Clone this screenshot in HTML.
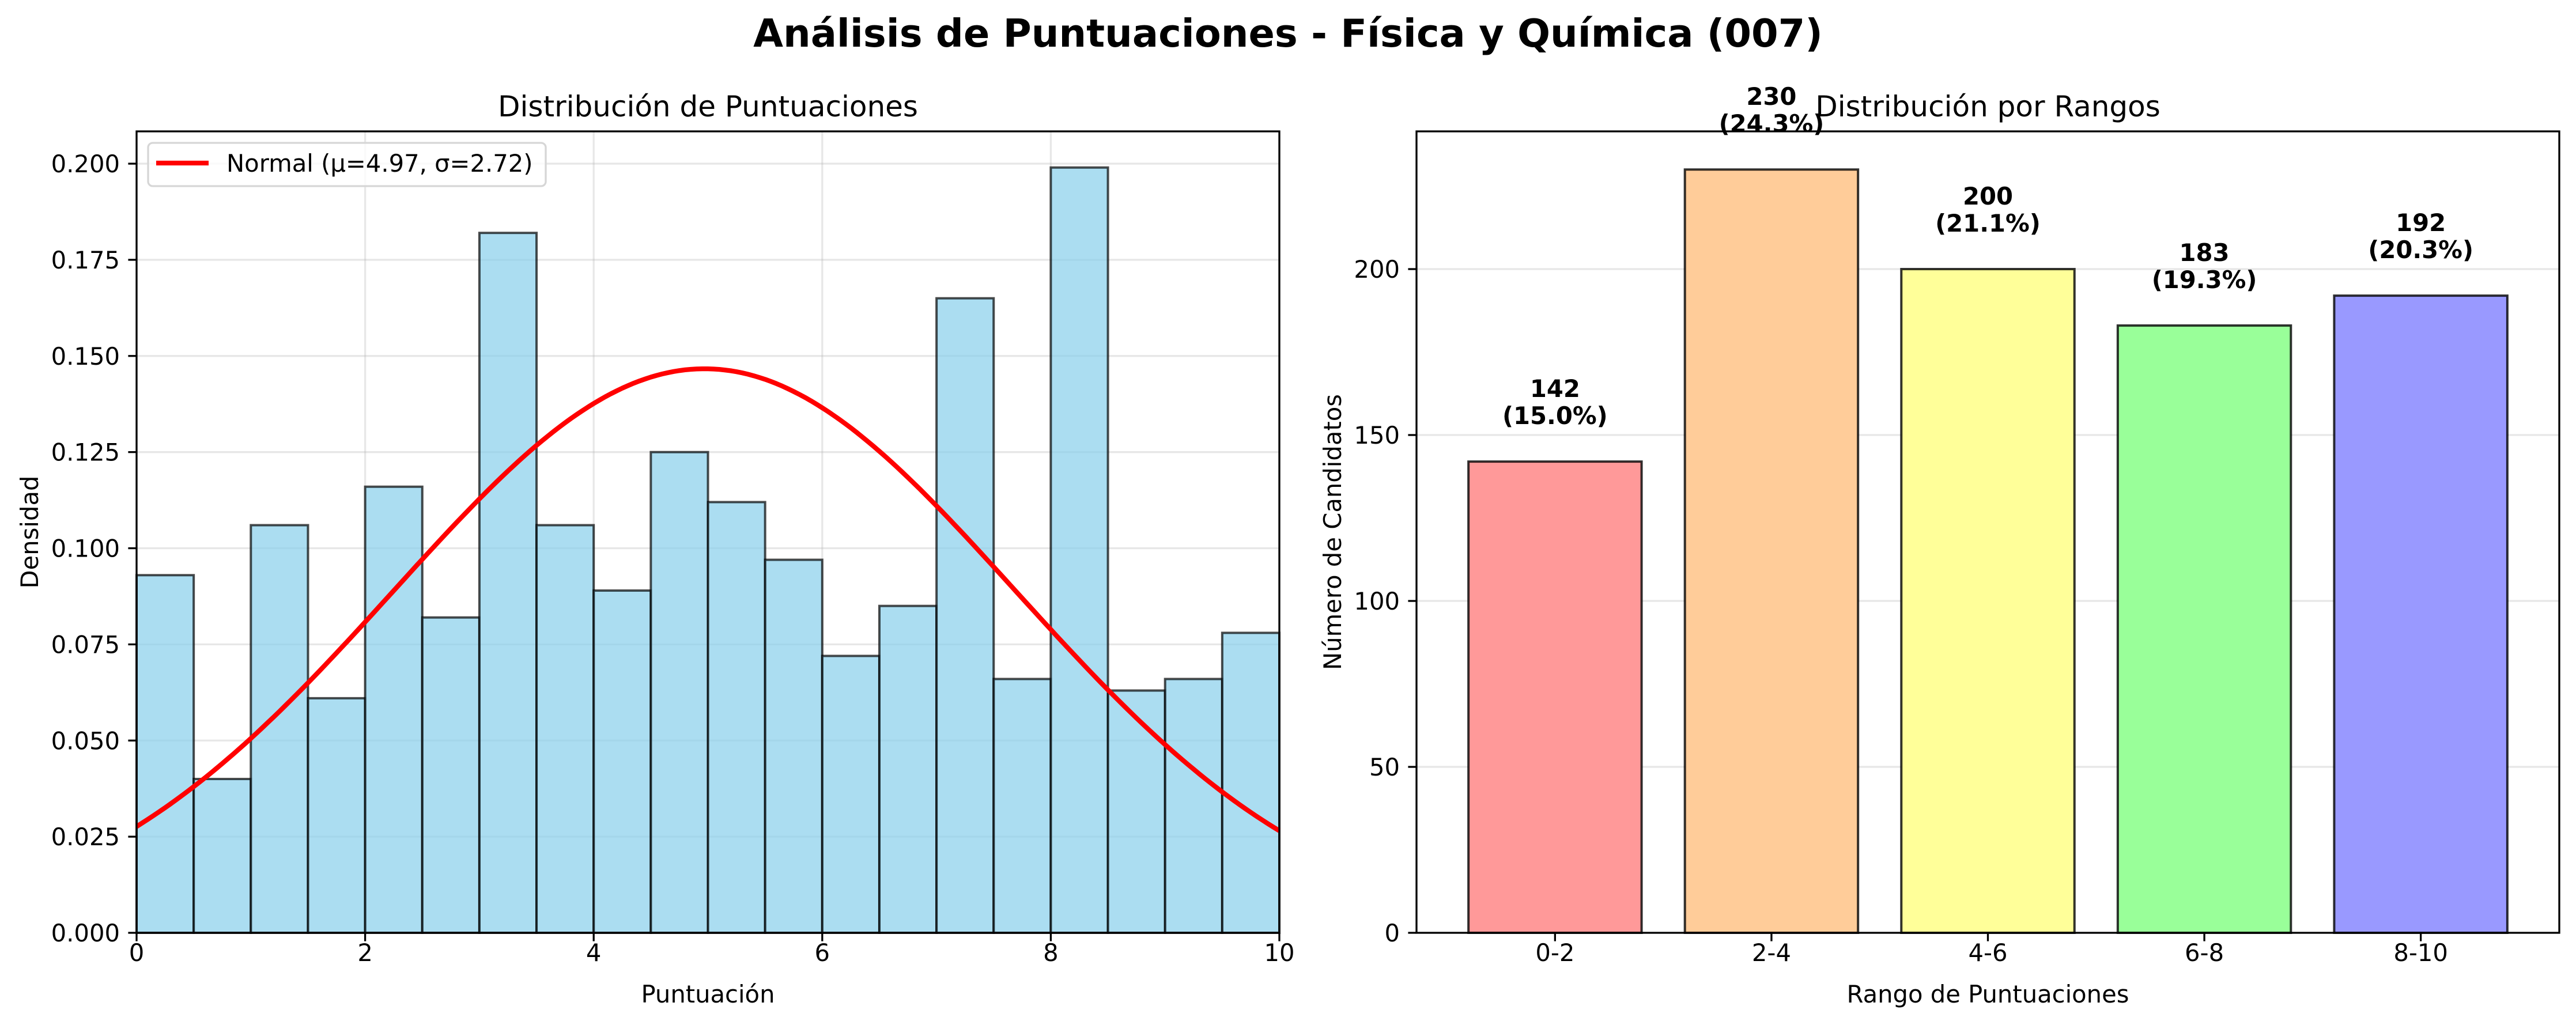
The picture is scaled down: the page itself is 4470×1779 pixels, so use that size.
<!DOCTYPE html>
<html><head><meta charset="utf-8"><style>
html,body{margin:0;padding:0;background:#fff;}
svg{display:block;font-family:"DejaVu Sans","Liberation Sans",sans-serif;}
</style></head><body>
<svg id="fig" width="4470" height="1779" viewBox="0 0 4470 1779" xmlns="http://www.w3.org/2000/svg">
<rect width="4470" height="1779" fill="#fff"/>
<text x="2235" y="81" text-anchor="middle" font-size="67" font-weight="bold">Análisis de Puntuaciones - Física y Química (007)</text>
<g id="left"></g>
<g id="right"></g>
</svg>
<script>
// Histogram data
const histBinStart = [0,0.5,1,1.5,2,2.5,3,3.5,4,4.5,5,5.5,6,6.5,7,7.5,8,8.5,9,9.5];
const histDensity = [0.093,0.040,0.106,0.061,0.116,0.082,0.182,0.106,0.089,0.125,0.112,0.097,0.072,0.085,0.165,0.066,0.199,0.063,0.066,0.078];
const histXTicks = [0,2,4,6,8,10];
const histYTicks = [0,0.025,0.05,0.075,0.1,0.125,0.15,0.175,0.2];
const normalMu = 4.97;
const normalSigma = 2.72;
// Range bar data
const rangeCategories = ["0-2","2-4","4-6","6-8","8-10"];
const rangeCounts = [142,230,200,183,192];
const rangePercents = ["15.0%","24.3%","21.1%","19.3%","20.3%"];
const rangeYTicks = [0,50,100,150,200];
const rangeColors = ["#ff9999","#ffcc99","#ffff99","#99ff99","#9999ff"];

const NS="http://www.w3.org/2000/svg";
function mk(parent,tag,attrs,text){const e=document.createElementNS(NS,tag);for(const k in attrs)e.setAttribute(k,attrs[k]);if(text!==undefined)e.textContent=text;parent.appendChild(e);return e;}

const axTop=228,bot=1619;
// ---------- Left ----------
const L=document.getElementById('left');
const lx0=237,lx1=2220,lymax=0.2084;
const lx=v=>lx0+v/10*(lx1-lx0);
const ly=v=>bot-v/lymax*(bot-axTop);
histXTicks.forEach(t=>{const g=mk(L,'line',{x1:lx(t),x2:lx(t),y1:axTop,y2:bot,stroke:'#b0b0b0','stroke-opacity':0.3,'stroke-width':3.3});

});
histYTicks.forEach(t=>{const g=mk(L,'line',{x1:lx0,x2:lx1,y1:ly(t),y2:ly(t),stroke:'#b0b0b0','stroke-opacity':0.3,'stroke-width':3.3});

});
histDensity.forEach((d,i)=>{const r=mk(L,'rect',{x:lx(histBinStart[i]),y:ly(d),width:lx(histBinStart[i]+0.5)-lx(histBinStart[i]),height:bot-ly(d),fill:'#87ceeb','fill-opacity':0.7,stroke:'#000','stroke-opacity':0.7,'stroke-width':4});

});
let pts=[];for(let k=0;k<=200;k++){const x=k/20;const y=Math.exp(-0.5*((x-normalMu)/normalSigma)**2)/(normalSigma*Math.sqrt(2*Math.PI));pts.push(lx(x).toFixed(1)+','+ly(y).toFixed(1));}
const curve=mk(L,'polyline',{points:pts.join(' '),fill:'none',stroke:'#ff0000','stroke-width':8.3,'stroke-linejoin':'round'});


mk(L,'rect',{x:lx0,y:axTop,width:lx1-lx0,height:bot-axTop,fill:'none',stroke:'#000','stroke-width':3.3});
histXTicks.forEach(t=>{mk(L,'line',{x1:lx(t),x2:lx(t),y1:bot,y2:bot+14.6,stroke:'#000','stroke-width':3.3});
const tx=mk(L,'text',{x:lx(t),y:1668,'text-anchor':'middle','font-size':41.7},String(t));

});
histYTicks.forEach(t=>{mk(L,'line',{x1:lx0-14.6,x2:lx0,y1:ly(t),y2:ly(t),stroke:'#000','stroke-width':3.3});
const tx=mk(L,'text',{x:208,y:ly(t)+15,'text-anchor':'end','font-size':41.7},t.toFixed(3));

});
const lt=mk(L,'text',{x:(lx0+lx1)/2,y:202,'text-anchor':'middle','font-size':50},'Distribución de Puntuaciones');


const lxl=mk(L,'text',{x:(lx0+lx1)/2,y:1740,'text-anchor':'middle','font-size':41.7},'Puntuación');


const lyl=mk(L,'text',{x:0,y:0,'text-anchor':'middle','font-size':41.7,transform:`translate(66,${(axTop+bot)/2}) rotate(-90)`},'Densidad');


const lg=mk(L,'g',{});


mk(lg,'rect',{x:257,y:248,width:690,height:75,rx:8,fill:'#fff','fill-opacity':0.8,stroke:'#d6d6d6','stroke-width':3.3});
mk(lg,'line',{x1:271,x2:362,y1:283,y2:283,stroke:'#ff0000','stroke-width':8.3});
mk(lg,'text',{x:393,y:298,'font-size':41.7},'Normal (μ=4.97, σ=2.72)');

// ---------- Right ----------
const R=document.getElementById('right');
const rx0=2458,rx1=4441,rymax=241.5;
const rx=v=>rx0+(v+0.64)/5.28*(rx1-rx0);
const ry=v=>bot-v/rymax*(bot-axTop);
rangeYTicks.forEach(t=>{const g=mk(R,'line',{x1:rx0,x2:rx1,y1:ry(t),y2:ry(t),stroke:'#b0b0b0','stroke-opacity':0.3,'stroke-width':3.3});

});
rangeCounts.forEach((c,i)=>{const r=mk(R,'rect',{x:rx(i-0.4),y:ry(c),width:rx(i+0.4)-rx(i-0.4),height:bot-ry(c),fill:rangeColors[i],stroke:'#000','stroke-opacity':0.8,'stroke-width':4});


const t1=mk(R,'text',{x:rx(i),y:ry(c)-112,'text-anchor':'middle','font-size':41.7,'font-weight':'bold'},String(c));


const t2=mk(R,'text',{x:rx(i),y:ry(c)-65,'text-anchor':'middle','font-size':41.7,'font-weight':'bold'},'('+rangePercents[i]+')');


mk(R,'line',{x1:rx(i),x2:rx(i),y1:bot,y2:bot+14.6,stroke:'#000','stroke-width':3.3});
const tx=mk(R,'text',{x:rx(i),y:1668,'text-anchor':'middle','font-size':41.7},rangeCategories[i]);

});
mk(R,'rect',{x:rx0,y:axTop,width:rx1-rx0,height:bot-axTop,fill:'none',stroke:'#000','stroke-width':3.3});
rangeYTicks.forEach(t=>{mk(R,'line',{x1:rx0-14.6,x2:rx0,y1:ry(t),y2:ry(t),stroke:'#000','stroke-width':3.3});
const tx=mk(R,'text',{x:rx0-29,y:ry(t)+15,'text-anchor':'end','font-size':41.7},String(t));

});
const rt=mk(R,'text',{x:(rx0+rx1)/2,y:202,'text-anchor':'middle','font-size':50},'Distribución por Rangos');


const rxl=mk(R,'text',{x:(rx0+rx1)/2,y:1740,'text-anchor':'middle','font-size':41.7},'Rango de Puntuaciones');


const ryl=mk(R,'text',{x:0,y:0,'text-anchor':'middle','font-size':41.7,transform:`translate(2327,${(axTop+bot)/2}) rotate(-90)`},'Número de Candidatos');


</script>
</body></html>
